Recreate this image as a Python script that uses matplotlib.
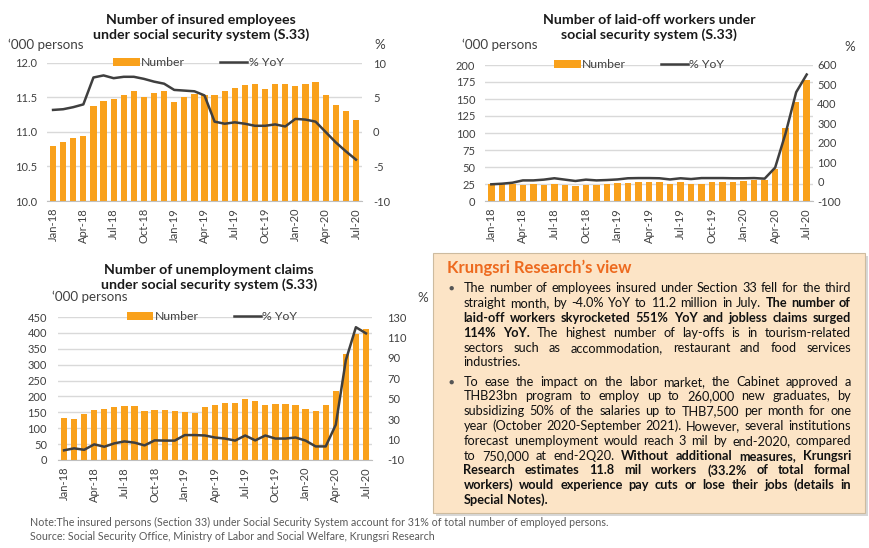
import matplotlib
matplotlib.use('Agg')
import matplotlib.pyplot as plt
import numpy as np
from matplotlib.patches import Rectangle, Patch
from matplotlib.lines import Line2D

plt.rcParams['font.family'] = ['Lato', 'DejaVu Sans']

# ---------------- data ----------------
months = ['Jan-18', 'Feb-18', 'Mar-18', 'Apr-18', 'May-18', 'Jun-18', 'Jul-18', 'Aug-18',
          'Sep-18', 'Oct-18', 'Nov-18', 'Dec-18', 'Jan-19', 'Feb-19', 'Mar-19', 'Apr-19',
          'May-19', 'Jun-19', 'Jul-19', 'Aug-19', 'Sep-19', 'Oct-19', 'Nov-19', 'Dec-19',
          'Jan-20', 'Feb-20', 'Mar-20', 'Apr-20', 'May-20', 'Jun-20', 'Jul-20']
tick_labels = ['Jan-18', 'Apr-18', 'Jul-18', 'Oct-18', 'Jan-19', 'Apr-19', 'Jul-19',
               'Oct-19', 'Jan-20', 'Apr-20', 'Jul-20']

insured_number = [10.79, 10.86, 10.92, 10.94, 11.37, 11.45, 11.48, 11.54, 11.59, 11.51,
                  11.57, 11.60, 11.44, 11.50, 11.55, 11.53, 11.54, 11.59, 11.64, 11.68,
                  11.69, 11.63, 11.70, 11.69, 11.66, 11.70, 11.73, 11.53, 11.39, 11.30, 11.18]
insured_yoy = [3.2, 3.3, 3.6, 4.0, 7.9, 8.2, 7.8, 8.0, 8.0, 7.7, 7.3, 7.0, 6.1, 6.0, 5.9,
               5.3, 1.5, 1.2, 1.4, 1.2, 0.9, 0.9, 1.1, 0.8, 1.9, 1.8, 1.5, 0.0, -1.5, -2.8, -4.0]

laidoff_number = [24.5, 24.5, 25, 24, 25, 24, 24.5, 23.5, 22.5, 24, 24, 25, 26.5, 27, 28.5,
                  28, 28.5, 25.5, 28, 25.5, 25.5, 28, 28.5, 28.5, 29.5, 31, 31, 47, 107, 145, 178]
laidoff_yoy = [-14, -11, -6, 6, 6, 10, 17, 10, 3, 10, 6, 8, 11, 17, 18, 18, 17, 11, 17, 13,
               18, 18, 18, 17, 17, 18, 15, 72, 250, 460, 551]

claims_number = [132, 130, 144, 156, 160, 166, 169, 169, 153, 158, 158, 153, 151, 149, 166,
                 174, 178, 179, 193, 185, 174, 176, 176, 172, 162, 153, 172, 217, 333, 397, 411]
claims_yoy = [-0.5, 1.4, 0.0, 5.3, 3.0, 6.3, 8.2, 7.0, 4.3, 9.2, 9.0, 9.0, 14.4, 14.4, 14.0,
              12.0, 11.0, 9.0, 14.0, 9.2, 14.0, 11.0, 11.0, 12.0, 9.0, 3.3, 3.3, 24.5, 87.7, 120.0, 114.0]

view_title = "Krungsri Research\u2019s view"
para1 = [
    [("The number of employees insured under Section 33 fell for the third", False)],
    [("straight month, by -4.0% YoY to 11.2 million in July.", False), ("The number of", True)],
    [("laid-off workers skyrocketed 551% YoY and jobless claims surged", True)],
    [("114% YoY.", True), ("The highest number of lay-offs is in tourism-related", False)],
    [("sectors such as accommodation, restaurant and food services", False)],
    [("industries.", False)],
]
para2 = [
    [("To ease the impact on the labor market, the Cabinet approved a", False)],
    [("THB23bn program to employ up to 260,000 new graduates, by", False)],
    [("subsidizing 50% of the salaries up to THB7,500 per month for one", False)],
    [("year (October 2020-September 2021). However, several institutions", False)],
    [("forecast unemployment would reach 3 mil by end-2020, compared", False)],
    [("to 750,000 at end-2Q20.", False), ("Without additional measures, Krungsri", True)],
    [("Research estimates 11.8 mil workers (33.2% of total formal", True)],
    [("workers) would experience pay cuts or lose their jobs (details in", True)],
    [("Special Notes).", True)],
]
note1 = "Note:The insured persons (Section 33) under Social Security System account for 31% of total number of employed persons."
note2 = "Source: Social Security Office, Ministry of Labor and Social Welfare, Krungsri Research"

# ---------------- style ----------------
W, H = 870, 548
ORANGE = '#F9A11B'
LINE = '#3F3F3F'
GRID = '#D9D9D9'
TXT = '#404040'

fig = plt.figure(figsize=(W / 100, H / 100), dpi=100)


def rect(x0, y0, x1, y1):
    return [x0 / W, 1 - y1 / H, (x1 - x0) / W, (y1 - y0) / H]


def panel(box, num, yoy, ylim, yticks, yfmt, y2lim, y2ticks, lpad, rpad, legx):
    ax = fig.add_axes(rect(*box))
    x = np.arange(len(num))
    ax.bar(x, num, width=0.62, color=ORANGE, zorder=2)
    ax.set_xlim(-0.6, len(num) - 0.4)
    ax.set_ylim(*ylim)
    ax.set_yticks(yticks)
    ax.set_yticklabels([yfmt.format(v) for v in yticks])
    ax.set_xticks(x[::3])
    ax.set_xticklabels(tick_labels, rotation=90)
    ax.grid(axis='y', color=GRID, lw=1.0, zorder=0)
    ax.set_axisbelow(True)
    for s in ['top', 'right', 'left']:
        ax.spines[s].set_visible(False)
    ax.spines['bottom'].set_color('#BFBFBF')
    ax.tick_params(axis='both', length=0, labelsize=8, colors=TXT)
    ax.tick_params(axis='y', pad=lpad)
    ax.tick_params(axis='x', pad=5)

    ax2 = ax.twinx()
    ax2.plot(x, yoy, color=LINE, lw=1.8, zorder=3)
    ax2.set_ylim(*y2lim)
    ax2.set_yticks(y2ticks)
    ax2.set_yticklabels([str(v) for v in y2ticks])
    for s in ['top', 'right', 'left', 'bottom']:
        ax2.spines[s].set_visible(False)
    ax2.tick_params(axis='y', length=0, labelsize=8, colors=TXT, pad=rpad)

    handles = [Patch(facecolor=ORANGE, edgecolor='none', label='Number'),
               Line2D([], [], color=LINE, lw=1.8, label='% YoY')]
    ax2.legend(handles=handles, loc='center', bbox_to_anchor=(legx, 1.0), ncol=2,
               frameon=False, fontsize=8.8, handlelength=2.2, handleheight=0.65,
               handletextpad=0.1, columnspacing=2.9, labelcolor=TXT)
    return ax, ax2


panel((47, 63, 362, 201), insured_number, insured_yoy, (10.0, 12.0),
      [10.0, 10.5, 11.0, 11.5, 12.0], '{:.1f}', (-10, 10), [-10, -5, 0, 5, 10], 7, 8, 0.48)
panel((485, 65, 813, 201), laidoff_number, laidoff_yoy, (0, 200),
      list(range(0, 201, 25)), '{:.0f}', (-100, 600), list(range(-100, 601, 100)), 7, 3, 0.47)
panel((58, 317, 372, 460), claims_number, claims_yoy, (0, 450),
      list(range(0, 451, 50)), '{:.0f}', (-10, 130), list(range(-10, 131, 20)), 8, 11, 0.49)


def ftext(x, y, s, **kw):
    return fig.text(x / W, 1 - y / H, s, **kw)


# titles
tkw = dict(fontsize=10.2, fontweight='bold', color='#1a1a1a', ha='center', va='center')
ftext(201, 20, 'Number of insured employees', **tkw)
ftext(201, 35, 'under social security system (S.33)', **tkw)
ftext(649, 20, 'Number of laid-off workers under', **tkw)
ftext(649, 35, 'social security system (S.33)', **tkw)
ftext(209, 270, 'Number of unemployment claims', **tkw)
ftext(209, 285, 'under social security system (S.33)', **tkw)

ukw = dict(fontsize=9.6, color=TXT, va='center')
ftext(8, 45, '\u2018000 persons', ha='left', **ukw)
ftext(380, 45, '%', ha='center', **ukw)
ftext(462, 45, '\u2018000 persons', ha='left', **ukw)
ftext(850, 47, '%', ha='center', **ukw)
ftext(52, 297, '\u2018000 persons', ha='left', **ukw)
ftext(423, 298, '%', ha='center', **ukw)

# notes
nkw = dict(fontsize=7.7, color='#595959', ha='left', va='center')
ftext(30, 522, note1, **nkw)
ftext(30, 537, note2, **nkw)

# ---------------- text box ----------------
bx0, by0, bx1, by1 = 433, 253, 865, 513
fig.patches.append(Rectangle((bx0 / W + 3 / W, 1 - by1 / H - 3 / H), (bx1 - bx0) / W, (by1 - by0) / H,
                             transform=fig.transFigure, facecolor='#BDBDBD', edgecolor='none',
                             alpha=0.6, zorder=0))
fig.patches.append(Rectangle((bx0 / W, 1 - by1 / H), (bx1 - bx0) / W, (by1 - by0) / H,
                             transform=fig.transFigure, facecolor='#FCE4C6', edgecolor='#CDBB9F',
                             lw=0.8, zorder=1))

ftext(447, 273, view_title, fontsize=12, fontweight='bold', color='#ED6A1F',
      ha='left', va='baseline', zorder=3)

fig.canvas.draw()
renderer = fig.canvas.get_renderer()
FS = 9.5
TL, TR = 463.5, 851.0


def width(s, bold, fs):
    t = fig.text(0, 0, s, fontsize=fs, fontweight='bold' if bold else 'normal')
    w = t.get_window_extent(renderer=renderer).width
    t.remove()
    return w


def words_of(line):
    out = []
    for seg, bold in line:
        for w in seg.split(' '):
            if w:
                out.append((w, bold))
    return out


def natural(line, fs):
    ws = words_of(line)
    tot = sum(width(w, b, fs) for w, b in ws)
    tot += sum(width('a a', b, fs) - width('aa', b, fs) for w, b in ws[:-1])
    return tot


# auto-fit font size to the tightest justified line
allpara = [para1, para2]
maxw = max(natural(l, FS) for p in allpara for l in p[:-1])
fs = FS * min(1.0, (TR - TL) * 0.985 / maxw)


def draw_line(line, y, last, fs):
    ws = words_of(line)
    wl = [width(w, b, fs) for w, b in ws]
    sp = [width('a a', b, fs) - width('aa', b, fs) for w, b in ws]
    if last or len(ws) < 2:
        gaps = sp[:-1]
    else:
        extra = ((TR - TL) - sum(wl) - sum(sp[:-1])) / (len(ws) - 1)
        gaps = [s + extra for s in sp[:-1]]
    x = TL
    for i, (w, b) in enumerate(ws):
        ftext(x, y, w, fontsize=fs, fontweight='bold' if b else 'normal', color='#111111',
              ha='left', va='baseline', zorder=3)
        if i < len(gaps):
            x += wl[i] + gaps[i]


LS = 14.8
starts = [292.5, 385.7]
for p, y0 in zip(allpara, starts):
    ftext(451, y0 - 4.0, '\u25CF', fontsize=6.5, color='#555555', ha='center', va='center', zorder=3)
    for i, line in enumerate(p):
        draw_line(line, y0 + i * LS, i == len(p) - 1, fs)

fig.savefig('out.png', dpi=100)
